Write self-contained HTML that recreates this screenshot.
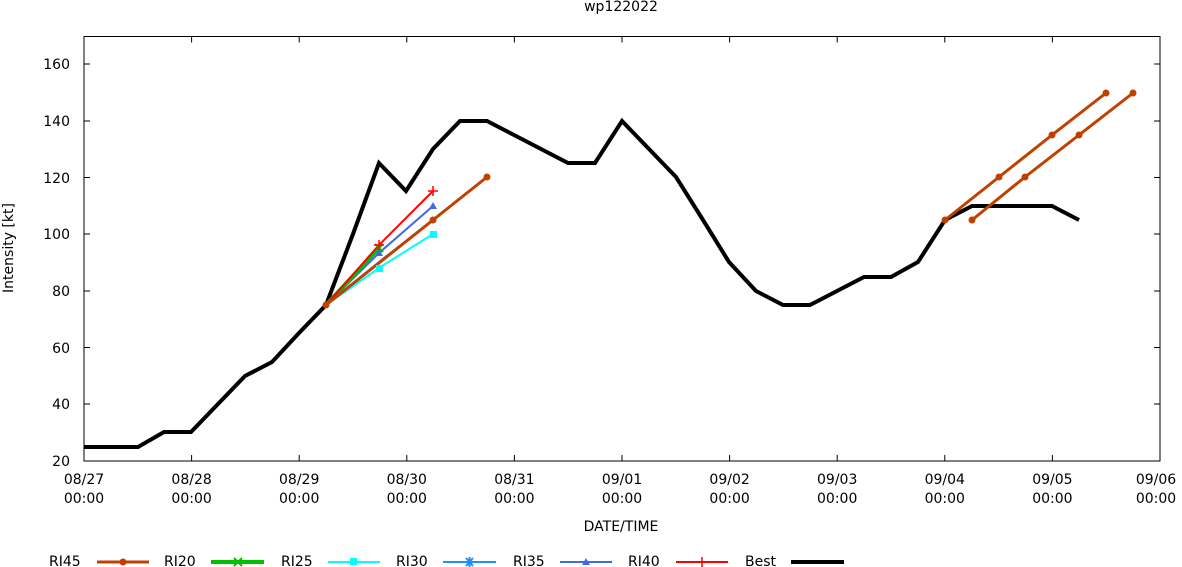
<!DOCTYPE html>
<html><head><meta charset="utf-8"><style>body{margin:0;background:#fff}svg{display:block;font-family:"DejaVu Sans","Liberation Sans",sans-serif}</style></head><body>
<svg width="1182" height="567" xmlns="http://www.w3.org/2000/svg">
<text x="621" y="11" font-size="14" text-anchor="middle">wp122022</text>
<rect x="84" y="36.5" width="1076" height="424.5" fill="none" stroke="#000" stroke-width="1"/>
<g font-size="14" text-anchor="end">
<text x="70" y="466">20</text><text x="70" y="409">40</text><text x="70" y="353">60</text><text x="70" y="296">80</text><text x="70" y="239">100</text><text x="70" y="183">120</text><text x="70" y="126">140</text><text x="70" y="69">160</text>
</g>
<g stroke="#000" stroke-width="1">
<path d="M84 404h6M84 347.5h6M84 291h6M84 234h6M84 177.5h6M84 121h6M84 64h6M1160 404h-6M1160 347.5h-6M1160 291h-6M1160 234h-6M1160 177.5h-6M1160 121h-6M1160 64h-6"/>
<path d="M191.6 461v-6M299.2 461v-6M406.8 461v-6M514.4 461v-6M622 461v-6M729.6 461v-6M837.2 461v-6M944.8 461v-6M1052.4 461v-6M191.6 36.5v6M299.2 36.5v6M406.8 36.5v6M514.4 36.5v6M622 36.5v6M729.6 36.5v6M837.2 36.5v6M944.8 36.5v6M1052.4 36.5v6"/>
</g>
<g font-size="14" text-anchor="middle">
<text x="84" y="484">08/27</text><text x="84" y="503">00:00</text>
<text x="191.6" y="484">08/28</text><text x="191.6" y="503">00:00</text>
<text x="299.2" y="484">08/29</text><text x="299.2" y="503">00:00</text>
<text x="406.8" y="484">08/30</text><text x="406.8" y="503">00:00</text>
<text x="514.4" y="484">08/31</text><text x="514.4" y="503">00:00</text>
<text x="622" y="484">09/01</text><text x="622" y="503">00:00</text>
<text x="729.6" y="484">09/02</text><text x="729.6" y="503">00:00</text>
<text x="837.2" y="484">09/03</text><text x="837.2" y="503">00:00</text>
<text x="944.8" y="484">09/04</text><text x="944.8" y="503">00:00</text>
<text x="1052.4" y="484">09/05</text><text x="1052.4" y="503">00:00</text>
<text x="1156" y="484">09/06</text><text x="1156" y="503">00:00</text>
<text x="621" y="531">DATE/TIME</text>
<text transform="translate(13,248) rotate(-90)">Intensity [kt]</text>
</g>
<polyline fill="none" stroke="#000" stroke-width="4" points="84,447 111,447 138,447 164,432 191,432 218,404 245,376 272,362 299,333 326,305 353,234 379,163 406,191 433,149 460,121 487,121 514,135 541,149 568,163 595,163 622,121 649,149 676,177 703,220 729,262 756,291 783,305 810,305 837,291 864,277 891,277 918,262 945,220 972,206 999,206 1025,206 1052,206 1079,220"/>
<g stroke-width="2" fill="none">
<polyline stroke="#00ffff" points="326,305 379,268 433,234"/>
<polyline stroke="#1e90ff" points="326,305 379,262 433,220"/>
<polyline stroke="#4169e1" points="326,305 379,253 433,206"/>
<polyline stroke="#00c000" stroke-width="4" points="326,305 379,248"/>
<polyline stroke="#ff0000" points="326,305 379,245 433,191"/>
<polyline stroke="#c04000" stroke-width="3" points="326,305 433,220 487,177"/>
<polyline stroke="#c04000" stroke-width="3" points="945,220 999,177 1052,135 1106,93"/>
<polyline stroke="#c04000" stroke-width="3" points="972,220 1025,177 1079,135 1133,93"/>
</g>
<g fill="#00ffff"><rect x="376" y="265" width="7" height="7"/><rect x="430" y="231" width="7" height="7"/></g>
<g fill="#4169e1"><path d="M379 249l4 7h-8zM433 202l4 7h-8z"/></g>
<g fill="#c04000"><circle cx="326" cy="305" r="3.5"/><circle cx="433" cy="220" r="3.5"/><circle cx="487" cy="177" r="3.5"/><circle cx="945" cy="220" r="3.5"/><circle cx="999" cy="177" r="3.5"/><circle cx="1052" cy="135" r="3.5"/><circle cx="1106" cy="93" r="3.5"/><circle cx="972" cy="220" r="3.5"/><circle cx="1025" cy="177" r="3.5"/><circle cx="1079" cy="135" r="3.5"/><circle cx="1133" cy="93" r="3.5"/></g>
<g stroke="#00c000" stroke-width="2"><path d="M375 244l8 8M383 244l-8 8"/></g>
<g stroke="#ff0000" stroke-width="1.5"><path d="M433 186v10M428 191h10M379 240v10M374 245h10"/></g>
<g font-size="14">
<text x="49" y="566">RI45</text>
<line x1="97" y1="562" x2="149" y2="562" stroke="#c04000" stroke-width="3"/><circle cx="123" cy="562" r="3.5" fill="#c04000"/>
<text x="164" y="566">RI20</text>
<line x1="211" y1="562" x2="264" y2="562" stroke="#00c000" stroke-width="4"/><path d="M234 558l8 8M242 558l-8 8" stroke="#00c000" stroke-width="2"/>
<text x="281" y="566">RI25</text>
<line x1="328" y1="562" x2="380" y2="562" stroke="#00ffff" stroke-width="2"/><rect x="350" y="558" width="7" height="7" fill="#00ffff"/>
<text x="396" y="566">RI30</text>
<line x1="443" y1="562" x2="496" y2="562" stroke="#1e90ff" stroke-width="2"/><path d="M466 558l7 8M473 558l-7 8M469.5 557v10" stroke="#1e90ff" stroke-width="2"/>
<text x="513" y="566">RI35</text>
<line x1="560" y1="562" x2="612" y2="562" stroke="#4169e1" stroke-width="2"/><path d="M586 558l4 7h-8z" fill="#4169e1"/>
<text x="628" y="566">RI40</text>
<line x1="676" y1="562" x2="728" y2="562" stroke="#ff0000" stroke-width="2"/><path d="M702 557v10M697 562h10" stroke="#ff0000" stroke-width="1.5"/>
<text x="745" y="566">Best</text>
<line x1="791" y1="562" x2="844" y2="562" stroke="#000" stroke-width="4"/>
</g>
</svg>
</body></html>
